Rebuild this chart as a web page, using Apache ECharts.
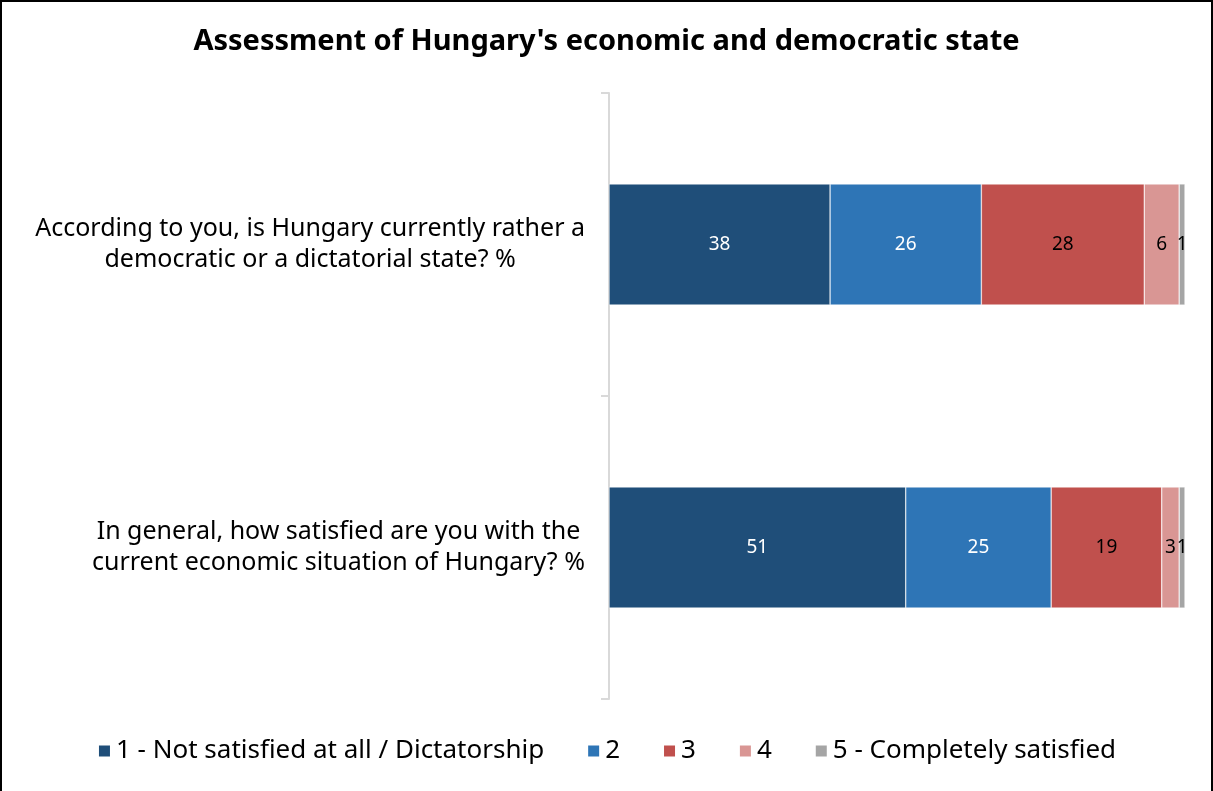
<!DOCTYPE html>
<html>
<head>
<meta charset="utf-8">
<script src="https://cdn.jsdelivr.net/npm/echarts@6/dist/echarts.min.js"></script>
<style>
  html, body { margin: 0; padding: 0; background: #fff; }
  #chart { width: 1209px; height: 789px; border: 2px solid #000; border-bottom: none; }
</style>
</head>
<body>
<div id="chart"></div>
<script>
var questions = [
    'According to you, is Hungary currently rather a\ndemocratic or a dictatorial state? %',
    'In general, how satisfied are you with the\ncurrent economic situation of Hungary? %'
];
var seriesNames = ['1 - Not satisfied at all / Dictatorship', '2', '3', '4', '5 - Completely satisfied'];
var colors = ['#1F4E79', '#2E75B6', '#C0504D', '#D99694', '#A5A5A5'];
var labelColors = ['#fff', '#fff', '#000', '#000', '#000'];
var answer1 = [38, 51];
var answer2 = [26, 25];
var answer3 = [28, 19];
var answer4 = [6, 3];
var answer5 = [1, 1];
var allAnswers = [answer1, answer2, answer3, answer4, answer5];

var chart = echarts.init(document.getElementById('chart'));

var series = seriesNames.map(function (name, i) {
    return {
        name: name,
        type: 'bar',
        stack: 'total',
        barWidth: '40%',
        data: allAnswers[i],
        itemStyle: { color: colors[i], borderColor: '#fff', borderWidth: 0.5 },
        label: {
            show: true,
            position: 'inside',
            color: labelColors[i],
            fontSize: 19,
            fontFamily: 'Noto Sans'
        }
    };
});

option = {
    color: colors,
    title: {
        text: "Assessment of Hungary's economic and democratic state",
        left: 'center',
        top: 20,
        textStyle: { fontSize: 29, fontWeight: 'bold', color: '#000', fontFamily: 'Noto Sans' }
    },
    legend: {
        bottom: 22,
        left: 'center',
        itemWidth: 13,
        itemHeight: 13,
        itemGap: 42,
        icon: 'rect',
        textStyle: { fontSize: 26, color: '#000', fontFamily: 'Noto Sans' }
    },
    grid: { left: 607, right: 26, top: 91, bottom: 92 },
    xAxis: {
        type: 'value',
        min: 0,
        max: 99,
        show: false
    },
    yAxis: {
        type: 'category',
        inverse: true,
        data: questions,
        axisLine: { lineStyle: { color: '#D9D9D9', width: 2 } },
        axisTick: { show: true, inside: false, length: 8, lineStyle: { color: '#D9D9D9', width: 2 } },
        axisLabel: {
            margin: 24,
            align: 'right',
            formatter: function (value) {
                return value.split('\n').map(function (line) {
                    return '{q|' + line + '}';
                }).join('\n');
            },
            rich: {
                q: {
                    fontSize: 25,
                    color: '#000',
                    fontFamily: 'Noto Sans',
                    lineHeight: 31,
                    align: 'center'
                }
            }
        }
    },
    series: series
};

chart.setOption(option);
</script>
</body>
</html>
